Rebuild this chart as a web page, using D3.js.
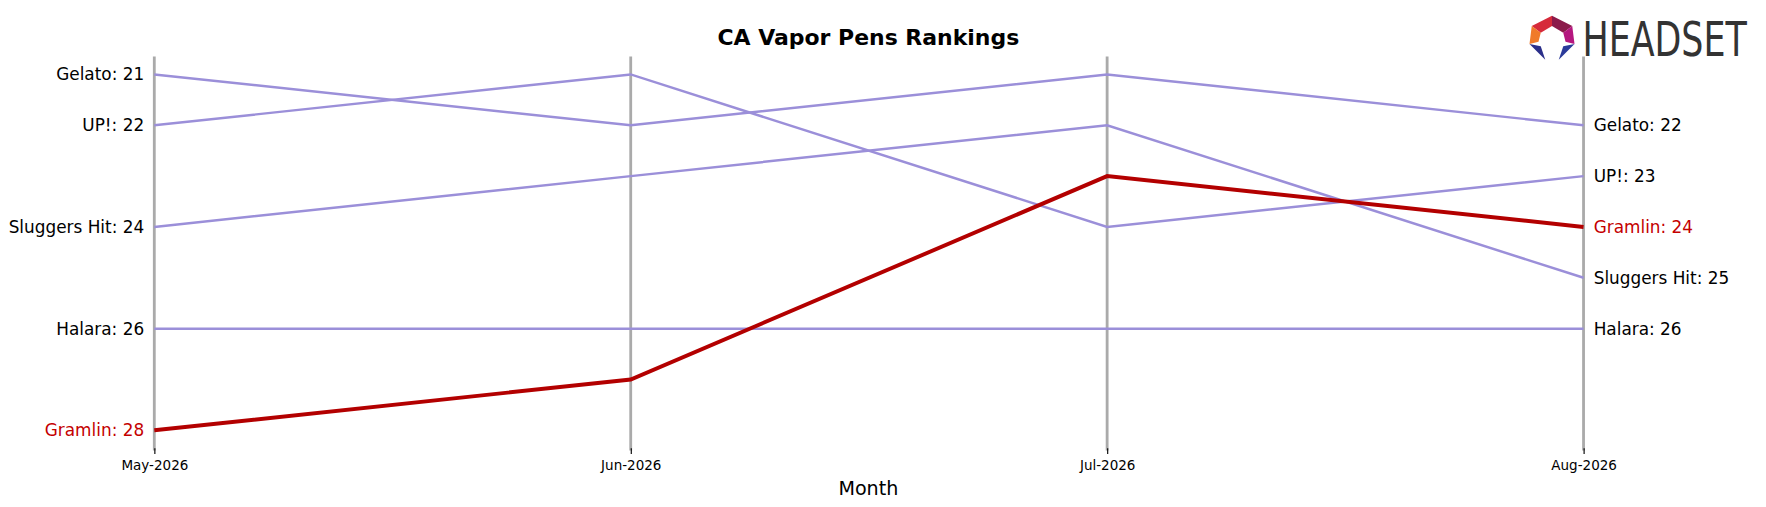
<!DOCTYPE html>
<html><head><meta charset="utf-8">
<script src="https://cdn.jsdelivr.net/npm/d3@7"></script>
<style>body{margin:0;background:#fff;font-family:"DejaVu Sans",sans-serif}</style>
</head><body><div id="draw"></div>
<script>
const months = ['May-2026', 'Jun-2026', 'Jul-2026', 'Aug-2026'];
const brands = ['Gelato', 'UP!', 'Sluggers Hit', 'Halara', 'Gramlin'];
const gelato = [21, 22, 21, 22];
const upRanks = [22, 21, 24, 23];
const sluggers = [24, 23, 22, 25];
const halara = [26, 26, 26, 26];
const gramlin = [28, 27, 23, 24];
const highlight = 'Gramlin';

const series = [gelato, upRanks, sluggers, halara, gramlin];

// drawn in a 1568x450 coordinate space, scaled to the window
var width = 1568, height = 450;
var svg = d3.select('#draw').append('svg').attr('width', 1766).attr('height', 507)
	.attr('viewBox', '0 0 ' + width + ' ' + height);

var x = d3.scalePoint().domain(months).range([137, 1406]);
var y = d3.scaleLinear().domain([21, 28]).range([66, 382]);

// vertical month lines
svg.selectAll('.vline').data(months).enter().append('line')
	.attr('x1', d => x(d)).attr('x2', d => x(d))
	.attr('y1', 50).attr('y2', 400)
	.attr('stroke', '#aaaaaa').attr('stroke-width', 2.5);

// x axis
var xAxis = svg.append('g').attr('transform', 'translate(0,398)')
	.call(d3.axisBottom(x).tickSize(5));
xAxis.select('.domain').remove();
xAxis.selectAll('text').attr('font-size', 12).attr('font-family', 'DejaVu Sans').attr('dy', '0.9em');

svg.append('text').attr('x', 771).attr('y', 439).attr('text-anchor', 'middle')
	.attr('font-size', 17).text('Month');

svg.append('text').attr('x', 771).attr('y', 40).attr('text-anchor', 'middle')
	.attr('font-size', 19.5).attr('font-weight', 'bold').text('CA Vapor Pens Rankings');

var line = d3.line().x((d, i) => x(months[i])).y(d => y(d));

// draw highlight last
var order = brands.map((b, i) => i).sort((a, b) => (brands[a] === highlight) - (brands[b] === highlight));
order.forEach(function (i) {
	var hl = brands[i] === highlight;
	svg.append('path').datum(series[i]).attr('d', line).attr('fill', 'none')
		.attr('stroke', hl ? '#b30000' : '#9b8fd9').attr('stroke-width', hl ? 3.5 : 2.2);
});

brands.forEach(function (b, i) {
	var hl = b === highlight;
	var v = series[i];
	svg.append('text').attr('x', x(months[0]) - 9).attr('y', y(v[0])).attr('dy', '0.35em')
		.attr('text-anchor', 'end').attr('font-size', 15)
		.attr('fill', hl ? '#c40000' : '#000').text(b + ': ' + v[0]);
	svg.append('text').attr('x', x(months[3]) + 9).attr('y', y(v[3])).attr('dy', '0.35em')
		.attr('font-size', 15)
		.attr('fill', hl ? '#c40000' : '#000').text(b + ': ' + v[3]);
});

// logo
var logo = svg.append('g').attr('transform', 'translate(1378,33)');
logo.append('path').attr('d', 'M-18,-10 L0,-19 L0,-10 L-10,-4 Z').attr('fill', '#d62a3a');
logo.append('path').attr('d', 'M0,-19 L18,-10 L10,-4 L0,-10 Z').attr('fill', '#8b1a4a');
logo.append('path').attr('d', 'M18,-10 L20,6 L12,4 L10,-4 Z').attr('fill', '#b5177f');
logo.append('path').attr('d', 'M-18,-10 L-20,6 L-12,4 L-10,-4 Z').attr('fill', '#f07a2a');
logo.append('path').attr('d', 'M-20,6 L-6,20 L-10,8 Z').attr('fill', '#2b2f8a');
logo.append('path').attr('d', 'M20,6 L6,20 L10,8 Z').attr('fill', '#2b3b9a');
svg.append('text').attr('x', 1405).attr('y', 50).attr('font-size', 42)
	.attr('font-family', 'DejaVu Sans Condensed').attr('fill', '#333').attr('textLength', 146)
	.attr('lengthAdjust', 'spacingAndGlyphs').text('HEADSET');
</script>
</body></html>
